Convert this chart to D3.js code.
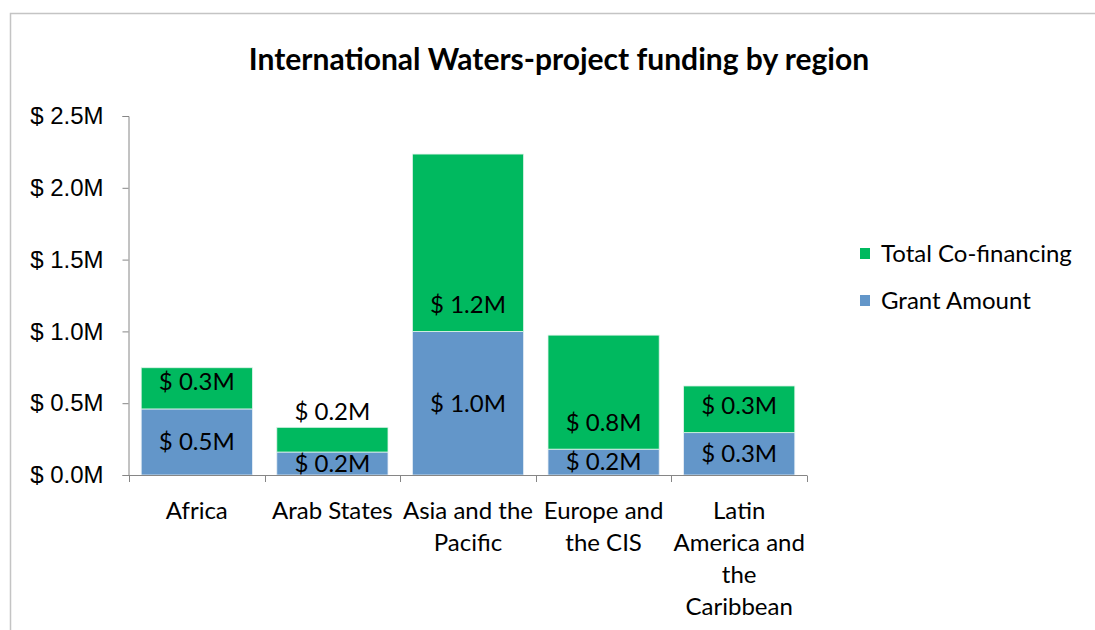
<!DOCTYPE html>
<html>
<head>
<meta charset="utf-8">
<script src="https://cdn.jsdelivr.net/npm/d3@7"></script>
<style>
  body { margin: 0; background: #fff; }
  svg { display: block; font-family: Lato, "Open Sans", sans-serif; }
</style>
</head>
<body>
<svg width="1095" height="630"></svg>
<script>
// dane (mln USD)
var regions = ["Africa", "Arab States", "Asia and the Pacific", "Europe and the CIS", "Latin America and the Caribbean"];
var regionLines = [["Africa"], ["Arab States"], ["Asia and the", "Pacific"], ["Europe and", "the CIS"], ["Latin", "America and", "the", "Caribbean"]];
var grantAmount = [0.46, 0.16, 1.0, 0.18, 0.295];
var coFinancing = [0.287, 0.172, 1.235, 0.794, 0.325];
var yTicks = [0, 0.5, 1.0, 1.5, 2.0, 2.5];
var seriesNames = ["Total Co-financing", "Grant Amount"];

var green = "#00b95f";
var blue = "#6396c9";
var fs = 24; // rozmiar czcionki etykiet
var svg = d3.select("svg");

var x = d3.scaleBand().domain(regions).range([129, 807]).paddingInner(0.18).paddingOuter(0.09);
var y = d3.scaleLinear().domain([0, 2.5]).range([475, 116]);
var fmt = function (v) { return "$ " + d3.format(".1f")(v) + "M"; };

// ramka
svg.append("path")
  .attr("d", "M10.5,640 L10.5,13.5 L1100,13.5")
  .attr("fill", "none")
  .attr("stroke", "#c4c4c4")
  .attr("stroke-width", 1.5);

// tytul
svg.append("text")
  .attr("x", 559)
  .attr("y", 70)
  .attr("text-anchor", "middle")
  .attr("font-size", 30)
  .attr("font-weight", "bold")
  .attr("fill", "#000")
  .text("International Waters-project funding by region");

// os Y
var yAxis = svg.append("g")
  .attr("transform", "translate(128.5,0)")
  .call(d3.axisLeft(y).tickValues(yTicks).tickSize(6).tickPadding(19).tickFormat(fmt));
yAxis.select(".domain").attr("stroke", "#868686");
yAxis.selectAll(".tick line").attr("stroke", "#868686");
yAxis.selectAll(".tick text").attr("font-size", fs).attr("fill", "#000").attr("font-family", null);

// slupki - grant
svg.selectAll(".grant")
  .data(regions)
  .enter()
  .append("rect")
  .attr("class", "grant")
  .attr("x", function (d) { return x(d); })
  .attr("width", x.bandwidth())
  .attr("y", function (d, i) { return y(grantAmount[i]); })
  .attr("height", function (d, i) { return y(0) - y(grantAmount[i]); })
  .attr("fill", blue)
  .attr("stroke", "#e6eef6")
  .attr("stroke-width", 0.8);

// slupki - wspolfinansowanie
svg.selectAll(".cofin")
  .data(regions)
  .enter()
  .append("rect")
  .attr("class", "cofin")
  .attr("x", function (d) { return x(d); })
  .attr("width", x.bandwidth())
  .attr("y", function (d, i) { return y(grantAmount[i] + coFinancing[i]); })
  .attr("height", function (d, i) { return y(grantAmount[i]) - y(grantAmount[i] + coFinancing[i]); })
  .attr("fill", green)
  .attr("stroke", "#e0f4ea")
  .attr("stroke-width", 0.8);

// os X
svg.append("line")
  .attr("x1", 128.5).attr("x2", 807)
  .attr("y1", 475.5).attr("y2", 475.5)
  .attr("stroke", "#868686");
for (let i = 0; i <= regions.length; i++) {
  var tx = Math.round(129 + i * x.step()) + 0.5;
  svg.append("line")
    .attr("x1", tx).attr("x2", tx)
    .attr("y1", 475.5).attr("y2", 482)
    .attr("stroke", "#868686");
}

// etykiety kategorii
regions.forEach(function (r, i) {
  var t = svg.append("text")
    .attr("text-anchor", "middle")
    .attr("font-size", fs)
    .attr("fill", "#000");
  regionLines[i].forEach(function (line, k) {
    t.append("tspan")
      .attr("x", x(r) + x.bandwidth() / 2)
      .attr("y", 519 + k * 32)
      .text(line);
  });
});

// etykiety wartosci
regions.forEach(function (r, i) {
  var cx = x(r) + x.bandwidth() / 2;
  var gy = (y(0) + y(grantAmount[i])) / 2;
  svg.append("text")
    .attr("x", cx).attr("y", gy).attr("dy", "0.35em")
    .attr("text-anchor", "middle").attr("font-size", fs).attr("fill", "#000")
    .text(fmt(grantAmount[i]));
  var segH = y(grantAmount[i]) - y(grantAmount[i] + coFinancing[i]);
  var cy = segH < 40 ? y(grantAmount[i] + coFinancing[i]) - 16 : y(grantAmount[i]) - 27;
  svg.append("text")
    .attr("x", cx).attr("y", cy).attr("dy", "0.35em")
    .attr("text-anchor", "middle").attr("font-size", fs).attr("fill", "#000")
    .text(fmt(coFinancing[i]));
});

// legenda
seriesNames.forEach(function (name, i) {
  svg.append("rect")
    .attr("x", 860).attr("y", 248 + i * 47)
    .attr("width", 10).attr("height", 11)
    .attr("fill", i == 0 ? green : blue);
  svg.append("text")
    .attr("x", 881).attr("y", 254 + i * 47).attr("dy", "0.35em")
    .attr("font-size", fs).attr("fill", "#000")
    .text(name);
});
</script>
</body>
</html>
